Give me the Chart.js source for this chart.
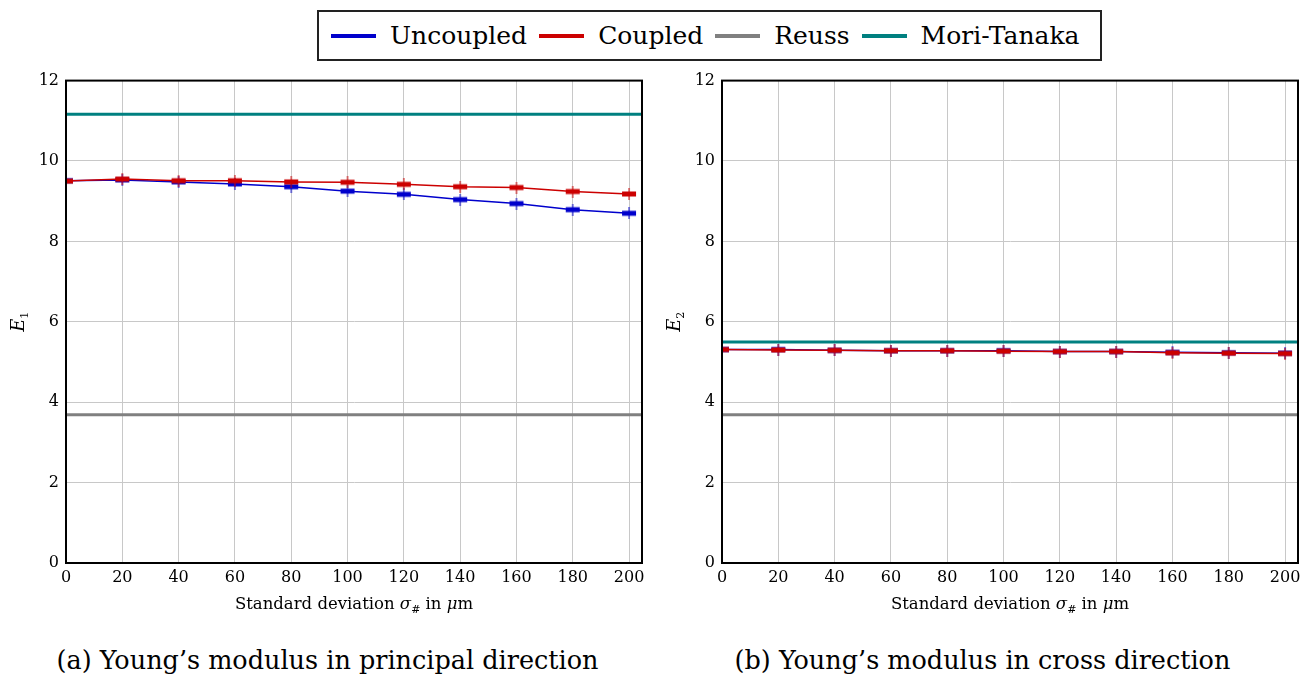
<!DOCTYPE html>
<html>
<head>
<meta charset="utf-8">
<script src="https://cdn.jsdelivr.net/npm/chart.js@4.4.1/dist/chart.umd.min.js"></script>
<style>
  body { margin: 0; background: #fff; width: 1309px; height: 676px; position: relative; overflow: hidden; font-family: "DejaVu Serif", serif; }
  #legend { position: absolute; left: 317px; top: 10px; width: 781px; height: 47px; border: 2.5px solid #222; display: flex; align-items: center; font-size: 25px; color: #000; }
  #legend .it { display: flex; align-items: center; margin-left: 12px; }
  #legend .sw { width: 45px; height: 4px; margin-right: 14px; }
  .plot { position: absolute; top: 64px; }
  .cap { position: absolute; top: 645px; width: 655px; text-align: center; font-size: 25.5px; }
</style>
</head>
<body>
<div id="legend"></div>
<canvas id="c1" class="plot" style="left:0px" width="655" height="566"></canvas>
<canvas id="c2" class="plot" style="left:656px" width="655" height="566"></canvas>
<div class="cap" style="left:0px">(a) Young’s modulus in principal direction</div>
<div class="cap" style="left:655px">(b) Young’s modulus in cross direction</div>
<script>
// data
const sigma = [0, 20, 40, 60, 80, 100, 120, 140, 160, 180, 200];
const uncoupledE1 = [9.51, 9.53, 9.48, 9.43, 9.36, 9.25, 9.17, 9.04, 8.94, 8.79, 8.70];
const coupledE1   = [9.50, 9.55, 9.51, 9.51, 9.48, 9.47, 9.42, 9.36, 9.34, 9.24, 9.18];
const uncoupledE2 = [5.31, 5.31, 5.29, 5.28, 5.28, 5.28, 5.26, 5.26, 5.24, 5.23, 5.22];
const coupledE2   = [5.31, 5.30, 5.29, 5.28, 5.28, 5.27, 5.26, 5.26, 5.23, 5.22, 5.21];
const reuss = [3.69, 3.69];
const moriTanaka = [11.16, 5.50];
const xTicks = [0, 20, 40, 60, 80, 100, 120, 140, 160, 180, 200];
const yTicks = [0, 2, 4, 6, 8, 10, 12];
const xMax = 204.6;

const BLUE = '#0000cc', RED = '#cc0000', GRAY = '#808080', TEAL = '#008080';
const SERIF = '"DejaVu Serif", "Liberation Serif", serif';

// legend
const legendItems = [['Uncoupled', BLUE], ['Coupled', RED], ['Reuss', GRAY], ['Mori-Tanaka', TEAL]];
const lg = document.getElementById('legend');
legendItems.forEach(([name, col]) => {
  const d = document.createElement('div');
  d.className = 'it';
  d.innerHTML = '<span class="sw" style="background:' + col + '"></span><span>' + name + '</span>';
  lg.appendChild(d);
});

// errorbar-like marker
function marker(color) {
  const c = document.createElement('canvas');
  c.width = 16; c.height = 12;
  const g = c.getContext('2d');
  g.fillStyle = color;
  g.fillRect(1, 3.5, 14, 5);
  g.fillRect(7.5, 0, 1, 12);
  return c;
}

function pts(vals) { return sigma.map((x, i) => ({x: x, y: vals[i]})); }
function flat(v) { return [{x: 0, y: v}, {x: xMax, y: v}]; }

function drawRich(ctx, parts, x, y) {
  let w = 0;
  parts.forEach(p => { ctx.font = p.font; w += ctx.measureText(p.t).width; });
  let cx = x - w / 2;
  parts.forEach(p => {
    ctx.font = p.font;
    ctx.fillText(p.t, cx, y + (p.dy || 0));
    cx += ctx.measureText(p.t).width;
  });
}

const framePlugin = {
  id: 'frame',
  afterDraw(chart) {
    const {ctx, chartArea: a} = chart;
    const sub = chart.options.plugins.frame.sub;
    ctx.save();
    ctx.strokeStyle = '#000';
    ctx.lineWidth = 2;
    ctx.strokeRect(a.left, a.top, a.right - a.left, a.bottom - a.top);
    ctx.fillStyle = '#000';
    ctx.textBaseline = 'alphabetic';
    const f = '16.5px ' + SERIF;
    const fi = 'italic 16.5px ' + SERIF;
    const fs = '11px ' + SERIF;
    drawRich(ctx, [
      {t: 'Standard deviation ', font: f},
      {t: 'σ', font: fi},
      {t: '#', font: fs, dy: 4},
      {t: ' in ', font: f},
      {t: 'μ', font: fi},
      {t: 'm', font: f}
    ], (a.left + a.right) / 2, 545);
    ctx.translate(24, (a.top + a.bottom) / 2);
    ctx.rotate(-Math.PI / 2);
    drawRich(ctx, [
      {t: 'E', font: 'italic 18px ' + SERIF},
      {t: sub, font: fs, dy: 4}
    ], 0, 0);
    ctx.restore();
  }
};

function makeChart(id, unc, cou, mt, sub) {
  // first dataset is drawn on top
  return new Chart(document.getElementById(id), {
    type: 'line',
    data: {
      datasets: [
        {data: pts(cou), borderColor: RED, borderWidth: 1.5, pointStyle: marker(RED)},
        {data: pts(unc), borderColor: BLUE, borderWidth: 1.5, pointStyle: marker(BLUE)},
        {data: flat(reuss[0]), borderColor: GRAY, borderWidth: 3, pointRadius: 0},
        {data: flat(mt), borderColor: TEAL, borderWidth: 3, pointRadius: 0}
      ]
    },
    options: {
      responsive: false,
      animation: false,
      layout: {padding: {top: 1, right: 13, left: 0, bottom: 0}},
      plugins: {legend: {display: false}, tooltip: {enabled: false}, frame: {sub: sub}},
      scales: {
        x: {
          type: 'linear', min: 0, max: xMax,
          afterBuildTicks: s => { s.ticks = xTicks.map(v => ({value: v})); },
          afterFit: s => { s.height = 67; },
          grid: {color: '#c8c8c8', lineWidth: 1, drawTicks: false},
          border: {color: '#000', width: 2},
          ticks: {padding: 5, color: '#000', font: {family: SERIF, size: 16}, maxRotation: 0}
        },
        y: {
          type: 'linear', min: 0, max: 12,
          afterBuildTicks: s => { s.ticks = yTicks.map(v => ({value: v})); },
          afterFit: s => { s.width = 66; },
          grid: {color: '#c8c8c8', lineWidth: 1, drawTicks: false},
          border: {color: '#000', width: 2},
          ticks: {padding: 7, color: '#000', font: {family: SERIF, size: 16}}
        }
      }
    },
    plugins: [framePlugin]
  });
}

makeChart('c1', uncoupledE1, coupledE1, moriTanaka[0], '1');
makeChart('c2', uncoupledE2, coupledE2, moriTanaka[1], '2');
</script>
</body>
</html>
